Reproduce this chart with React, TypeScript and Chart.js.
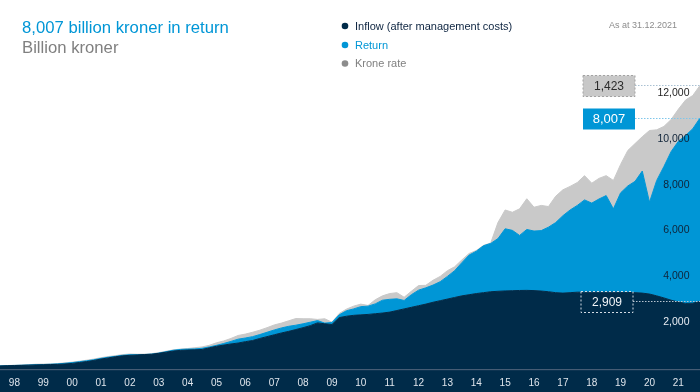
import React, { useEffect, useRef } from "react";
import { Chart, registerables } from "chart.js";

Chart.register(...registerables);

// Quarter-end grid: first point at 1997.75, one point per quarter up to 2022.0
const START = 1997.75;

// Cumulative inflow after management costs (billion NOK), quarterly
const inflow = [
  90, 100, 108, 115, 125, 135, 140, 150, 160, 175, 200, 240, 280, 330, 390, 440, 490, 530, 555, 570,
  585, 600, 640, 690, 740, 770, 785, 795, 810, 880, 950, 1000, 1050, 1090, 1150, 1200, 1290, 1370, 1450, 1530,
  1600, 1680, 1760, 1850, 1970, 1930, 1900, 2200, 2260, 2300, 2320, 2340, 2370, 2400, 2440, 2510, 2580, 2650, 2720, 2790,
  2870, 2940, 3010, 3080, 3150, 3200, 3250, 3290, 3330, 3350, 3365, 3375, 3385, 3390, 3380, 3360, 3330, 3290, 3270, 3290,
  3310, 3310, 3310, 3310, 3310, 3310, 3305, 3300, 3290, 3270, 3230, 3150, 3060, 2960, 2880, 2820, 2830, 2909,
];

// Cumulative return (billion NOK), quarterly
const returns = [
  0, 3, 5, 5, 5, 10, 12, 15, 20, 30, 35, 35, 35, 30, 30, 30, 20, 25, 25, 10,
  5, 5, 10, 20, 35, 40, 40, 40, 50, 40, 40, 70, 110, 170, 160, 170, 170, 190, 210, 220,
  220, 190, 170, 150, 100, 30, 90, 120, 240, 280, 360, 360, 430, 560, 560, 510, 370, 550, 680, 710,
  750, 830, 990, 1170, 1450, 1730, 1850, 2050, 2110, 2300, 2715, 2635, 2405, 2660, 2600, 2640, 2820, 3060, 3380, 3610,
  3790, 4030, 3890, 4070, 4220, 3640, 4345, 4650, 4860, 5330, 4010, 5040, 5740, 6490, 7020, 7330, 7620, 8007,
];

// Cumulative krone rate effect (billion NOK), quarterly
const kroneRate = [
  0, 5, 5, 8, 15, 20, 18, 15, 15, 20, 20, 20, 25, 30, 30, 30, 30, 30, 30, 20,
  15, 20, 20, 20, 15, 15, 25, 50, 60, 70, 110, 110, 130, 160, 170, 190, 190, 200, 220, 210,
  240, 290, 220, 150, 50, 190, 10, 60, 70, 120, 110, 30, 180, 190, 250, 270, 140, 150, 200, 110,
  210, 230, 250, 170, 120, 70, 30, 10, 20, 700, 820, 790, 1160, 1340, 1040, 1100, 900, 1150, 1130, 1030,
  1000, 1060, 870, 900, 870, 1240, 1240, 1550, 1650, 1500, 3130, 2210, 1750, 1400, 1400, 1550, 1450, 1423,
];

const yearLabels = [
  "98", "99", "00", "01", "02", "03", "04", "05", "06", "07", "08", "09",
  "10", "11", "12", "13", "14", "15", "16", "17", "18", "19", "20", "21",
];
const yTickValues = [2000, 4000, 6000, 8000, 10000, 12000];
const yTickLabels = ["2,000", "4,000", "6,000", "8,000", "10,000", "12,000"];

const seriesNames = ["Inflow (after management costs)", "Return", "Krone rate"];
const titleText = "8,007 billion kroner in return";
const subtitleText = "Billion kroner";
const dateText = "As at 31.12.2021";

const NAVY = "#002b49";
const BLUE = "#0096d6";
const GRAY = "#c9c9c9";
const FONT = 'Arial, "Liberation Sans", sans-serif';

const fmt = (v: number) => v.toLocaleString("en-US");

const toPoints = (arr: number[]) => arr.map((v, i) => ({ x: START + i * 0.25, y: v }));

const decorPlugin = {
  id: "decor",
  beforeDraw(chart: any) {
    const { ctx, chartArea, width, height } = chart;
    ctx.save();
    ctx.fillStyle = "#ffffff";
    ctx.fillRect(0, 0, width, height);
    ctx.fillStyle = NAVY;
    ctx.fillRect(0, chartArea.bottom - 1, width, height - chartArea.bottom + 1);
    ctx.fillStyle = "#465c74";
    ctx.fillRect(0, chartArea.bottom + 1, width, 1.2);
    ctx.restore();
  },
  afterDatasetsDraw(chart: any) {
    const { ctx, chartArea } = chart;
    const y = chart.scales.y;
    const last = inflow.length - 1;
    const vIn = inflow[last];
    const vRet = returns[last];
    const vKr = kroneRate[last];
    const yIn = y.getPixelForValue(vIn);
    const yBlue = y.getPixelForValue(vIn + vRet);
    const yTot = y.getPixelForValue(vIn + vRet + vKr);
    ctx.save();

    // y tick labels drawn inside the plot on the right
    ctx.font = `10.5px ${FONT}`;
    ctx.textAlign = "right";
    ctx.textBaseline = "middle";
    yTickValues.forEach((v, i) => {
      ctx.fillStyle = v === 2000 ? "#e8edf3" : v === 12000 ? "#1e1e1e" : "#0f2338";
      ctx.fillText(yTickLabels[i], chartArea.right - 10.5, y.getPixelForValue(v));
    });

    // dotted guide lines
    ctx.lineWidth = 1;
    ctx.setLineDash([1.5, 1.5]);
    const guide = (yy: number, color: string, x0: number) => {
      ctx.strokeStyle = color;
      ctx.beginPath();
      ctx.moveTo(x0, Math.round(yy) + 0.5);
      ctx.lineTo(chartArea.right, Math.round(yy) + 0.5);
      ctx.stroke();
    };
    guide(yTot, "#a9c0d2", 635);
    guide(yBlue, "#7fc6ea", 635);
    guide(yIn, "#b8c4d0", 633);

    // boxes
    const box = (x: number, cy: number, fill: string | null, stroke: string | null, text: string, color: string, size: number) => {
      const w = 52;
      const h = 21;
      const top = Math.round(cy - h / 2) + 0.5;
      if (fill) {
        ctx.fillStyle = fill;
        ctx.fillRect(x, top, w, h);
      }
      if (stroke) {
        ctx.setLineDash([2, 2]);
        ctx.strokeStyle = stroke;
        ctx.strokeRect(x, top, w, h);
      }
      ctx.fillStyle = color;
      ctx.font = `${size}px ${FONT}`;
      ctx.textAlign = "center";
      ctx.textBaseline = "middle";
      ctx.fillText(text, x + w / 2, top + h / 2 + 0.5);
    };
    box(583, yTot, "#c8c8c8", "#a2a2a2", fmt(vKr), "#2b2b2b", 12);
    box(583, yBlue, BLUE, null, fmt(vRet), "#ffffff", 13);
    box(581, yIn, null, "#d3dbe4", fmt(vIn), "#f2f5f8", 12);

    // title
    ctx.setLineDash([]);
    ctx.textAlign = "left";
    ctx.textBaseline = "alphabetic";
    ctx.font = `16.7px ${FONT}`;
    ctx.fillStyle = BLUE;
    ctx.fillText(titleText, 22, 32.7);
    ctx.fillStyle = "#808080";
    ctx.fillText(subtitleText, 22, 53.3);

    // legend
    const legendColors = [NAVY, BLUE, "#8c8c8c"];
    const legendText = ["#0d2440", BLUE, "#808080"];
    const rows = [26, 45, 63.5];
    ctx.font = `11px ${FONT}`;
    ctx.textBaseline = "middle";
    seriesNames.forEach((name, i) => {
      ctx.fillStyle = legendColors[i];
      ctx.beginPath();
      ctx.arc(345, rows[i], 3.3, 0, Math.PI * 2);
      ctx.fill();
      ctx.fillStyle = legendText[i];
      ctx.fillText(name, 355, rows[i] + 0.5);
    });

    // date note
    ctx.font = `9px ${FONT}`;
    ctx.fillStyle = "#8c8c8c";
    ctx.fillText(dateText, 609, 25.7);
    ctx.restore();
  },
};

export default function App() {
  const canvasRef = useRef<HTMLCanvasElement | null>(null);

  useEffect(() => {
    document.body.style.margin = "0";
    const canvas = canvasRef.current;
    if (!canvas) return;
    const chart = new Chart(canvas, {
      type: "line",
      data: {
        datasets: [
          {
            label: seriesNames[0],
            data: toPoints(inflow),
            backgroundColor: NAVY,
            borderColor: NAVY,
            borderWidth: 1,
            fill: "origin",
            pointRadius: 0,
            tension: 0,
          },
          {
            label: seriesNames[1],
            data: toPoints(returns),
            backgroundColor: BLUE,
            borderColor: BLUE,
            borderWidth: 1,
            fill: "-1",
            pointRadius: 0,
            tension: 0,
          },
          {
            label: seriesNames[2],
            data: toPoints(kroneRate),
            backgroundColor: GRAY,
            borderColor: GRAY,
            borderWidth: 1,
            fill: "-1",
            pointRadius: 0,
            tension: 0,
          },
        ],
      },
      options: {
        responsive: false,
        animation: false,
        devicePixelRatio: 1,
        layout: { padding: 0 },
        plugins: {
          legend: { display: false },
          tooltip: { enabled: false },
          title: { display: false },
        },
        scales: {
          x: {
            type: "linear",
            min: START,
            max: 2022,
            grid: { display: false },
            border: { display: false },
            afterBuildTicks: (axis: any) => {
              axis.ticks = yearLabels.map((_, i) => ({ value: 1998.25 + i }));
            },
            afterFit: (s: any) => {
              s.height = 24;
            },
            ticks: {
              autoSkip: false,
              maxRotation: 0,
              padding: 1,
              color: "#dfe5ec",
              font: { size: 10, family: FONT },
              callback: (_v: any, i: number) => yearLabels[i],
            },
          },
          y: {
            type: "linear",
            stacked: true,
            min: 0,
            max: 16070,
            display: false,
          },
        },
      },
      plugins: [decorPlugin],
    });
    return () => chart.destroy();
  }, []);

  return (
    <div style={{ position: "fixed", left: 0, top: 0, width: 700, height: 392 }}>
      <canvas ref={canvasRef} width={700} height={392} style={{ display: "block", width: 700, height: 392 }} />
    </div>
  );
}
